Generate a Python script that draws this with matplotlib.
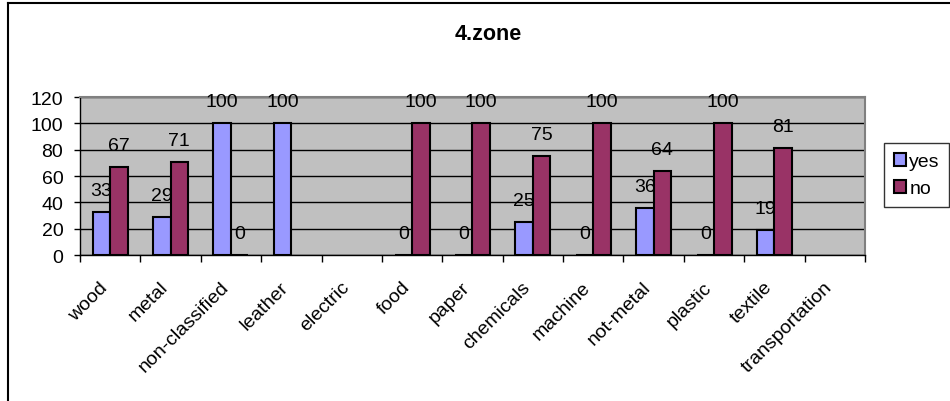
import matplotlib.pyplot as plt
import matplotlib.transforms as mtransforms
import numpy as np
from matplotlib.lines import Line2D

plt.rcParams['font.family'] = ['Liberation Sans', 'DejaVu Sans']

categories = ['wood', 'metal', 'non-classified', 'leather', 'electric', 'food', 'paper',
              'chemicals', 'machine', 'not-metal', 'plastic', 'textile', 'transportation']
yes = [33, 29, 100, 100, np.nan, 0, 0, 25, 0, 36, 0, 19, np.nan]
no = [67, 71, 0, np.nan, np.nan, 100, 100, 75, 100, 64, 100, 81, np.nan]

fs = 14
fig = plt.figure(figsize=(9.5, 4.02), dpi=100)
ax = fig.add_axes([0.0842, 0.363, 0.8263, 0.393])

x = np.arange(len(categories))
w = 0.29
ax.bar(x - w / 2, yes, w, color='#9999FF', edgecolor='black', linewidth=1.5, label='yes', zorder=3)
ax.bar(x + w / 2, no, w, color='#993366', edgecolor='black', linewidth=1.5, label='no', zorder=3)

for xs, vals in ((x - w / 2, yes), (x + w / 2, no)):
    for xi, v in zip(xs, vals):
        if np.isnan(v):
            continue
        ax.annotate(f'{v:.0f}', (xi, v), xytext=(0, 15.5), textcoords='offset points',
                    ha='center', va='center', fontsize=fs, zorder=4)

ax.set_facecolor('#C0C0C0')
ax.set_xlim(-0.5, len(categories) - 0.5)
ax.set_ylim(0, 120)
ax.set_yticks(range(0, 121, 20))
ax.yaxis.grid(True, color='black', linewidth=1)
ax.set_axisbelow(True)
for s in ('top', 'right'):
    ax.spines[s].set_color('#808080')
    ax.spines[s].set_linewidth(1.5)
ax.spines['left'].set_linewidth(1)
ax.spines['bottom'].set_linewidth(1)

ax.set_xticks(np.arange(len(categories) + 1) - 0.5, minor=False)
ax.set_xticklabels([])
ax.set_xticks(x, minor=True)
ax.set_xticklabels(categories, minor=True, rotation=45, ha='right', va='center',
                   rotation_mode='anchor', fontsize=fs)
ax.tick_params(axis='x', which='minor', length=0, pad=21)
ax.tick_params(axis='x', which='major', direction='out', length=5, width=1)
ax.tick_params(axis='y', direction='out', length=4, width=1, labelsize=fs, pad=8)

# nudge category labels a little to the left of their slot centres
shift = mtransforms.ScaledTranslation(-5 / 100, 0, fig.dpi_scale_trans)
for lbl in ax.get_xticklabels(minor=True):
    lbl.set_transform(lbl.get_transform() + shift)

fig.text(0.514, 0.913, '4.zone', ha='center', va='center', fontsize=15.5, fontweight='bold')

leg = ax.legend(loc='upper left', bbox_to_anchor=(0.9305, 0.641), bbox_transform=fig.transFigure,
                fontsize=fs, frameon=True, fancybox=False, edgecolor='black',
                handlelength=0.65, handleheight=0.65, handletextpad=0.15, labelspacing=0.5,
                borderpad=0.5, borderaxespad=0)
leg.get_frame().set_linewidth(1)
for h in leg.legend_handles:
    h.set_linewidth(1.5)

# chart outline, left and top edges
fig.add_artist(Line2D([0.0085, 0.0085], [0, 0.99], color='black', linewidth=1.5, transform=fig.transFigure))
fig.add_artist(Line2D([0.0085, 1], [0.99, 0.99], color='black', linewidth=1.5, transform=fig.transFigure))

fig.savefig('out.png', dpi=100)
